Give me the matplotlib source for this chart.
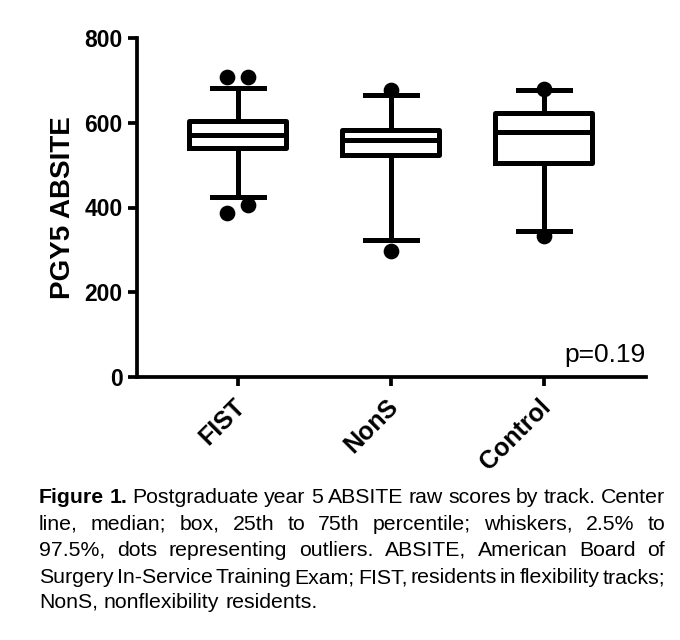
import matplotlib
matplotlib.use("Agg")
import matplotlib.pyplot as plt

# data
groups = ["FIST", "NonS", "Control"]
medians = [571, 559, 578]
q1 = [541, 525, 505]
q3 = [605, 582, 624]
whis_lo = [424, 324, 345]
whis_hi = [683, 665, 677]
# outliers: (x offset within the group, value)
out_x = [[-0.07, 0.064, -0.07, 0.064], [0.0, 0.0], [0.0, 0.0]]
out_y = [[707, 707, 388, 405], [678, 298], [680, 333]]

caption = [
    "Figure 1. Postgraduate year 5 ABSITE raw scores by track. Center",
    "line, median; box, 25th to 75th percentile; whiskers, 2.5% to",
    "97.5%, dots representing outliers. ABSITE, American Board of",
    "Surgery In-Service Training Exam; FIST, residents in flexibility tracks;",
    "NonS, nonflexibility residents.",
]

plt.rcParams["font.family"] = ["Liberation Sans", "DejaVu Sans"]

W, H = 680, 640
fig = plt.figure(figsize=(W / 100, H / 100), dpi=100)
ax = fig.add_axes([137 / W, 1 - 377 / H, (646 - 137) / W, (377 - 38) / H])

lw = 3.6
stats = []
for i in range(len(groups)):
    stats.append(dict(med=medians[i], q1=q1[i], q3=q3[i],
                      whislo=whis_lo[i], whishi=whis_hi[i], fliers=[]))
pos = list(range(len(groups)))
ax.bxp(stats, positions=pos, widths=0.635, showfliers=False,
       boxprops=dict(color="black", linewidth=lw),
       medianprops=dict(color="black", linewidth=lw, solid_capstyle="butt"),
       whiskerprops=dict(color="black", linewidth=lw),
       capprops=dict(color="black", linewidth=lw),
       capwidths=0.34)

for i in range(len(groups)):
    xs = [pos[i] + d for d in out_x[i]]
    ax.plot(xs, out_y[i], "o", color="black", markersize=10.3, zorder=3)

ax.set_xlim(-0.66, 2.67)
ax.set_ylim(0, 800)
ax.set_yticks([0, 200, 400, 600, 800])
ax.set_xticks(pos)
ax.set_xticklabels([])
# rotated group labels, nudged a bit left/down of the ticks
for p, g in zip(pos, groups):
    ax.annotate(g, xy=(p, 0), xycoords=("data", "axes fraction"),
                xytext=(-3.6, -12.7), textcoords="offset points",
                rotation=45, ha="right", va="top", rotation_mode="anchor",
                fontsize=18, fontweight="bold", annotation_clip=False)
for t in ax.get_yticklabels():
    t.set_fontsize(16.5)
    t.set_fontweight("bold")
ax.set_ylabel("PGY5 ABSITE", fontsize=20, fontweight="bold", labelpad=6)

for s in ["top", "right"]:
    ax.spines[s].set_visible(False)
for s in ["left", "bottom"]:
    ax.spines[s].set_linewidth(2.7)
ax.tick_params(width=2.7, length=6.5, pad=4)

ax.text(1.0, 0.043, "p=0.19", transform=ax.transAxes, ha="right",
        va="baseline", fontsize=19)

# justified caption
renderer = fig.canvas.get_renderer()
x0, x1 = 39, 665
baselines = [503, 530, 556, 583, 608]
fs = 15.3
for li, line in enumerate(caption):
    words = line.split(" ")
    objs = []
    for wi, w in enumerate(words):
        bold = li == 0 and wi < 2
        t = fig.text(0, 1 - baselines[li] / H, w, fontsize=fs,
                     fontweight="bold" if bold else "normal",
                     va="baseline", ha="left")
        objs.append(t)
    widths = [t.get_window_extent(renderer).width for t in objs]
    if li < len(caption) - 1:
        gap = (x1 - x0 - sum(widths)) / (len(words) - 1)
    else:
        gap = fs * 0.28 * 100 / 72
    x = x0
    for t, wd in zip(objs, widths):
        t.set_x(x / W)
        x += wd + gap

fig.savefig("out.png", dpi=100)
